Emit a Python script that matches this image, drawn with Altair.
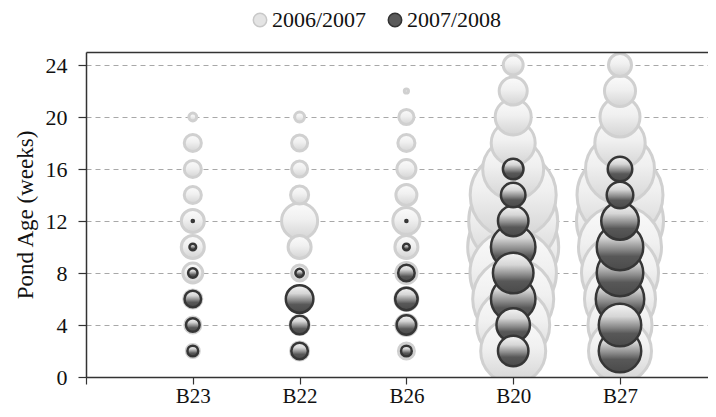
import altair as alt
import pandas as pd

categories = ["B23", "B22", "B26", "B20", "B27"]
seasons = ["2006/2007", "2007/2008"]
weeks = [2, 4, 6, 8, 10, 12, 14, 16, 18, 20, 22, 24]
y_ticks = [0, 4, 8, 12, 16, 20, 24]

# relative bubble sizes per pond, one value per week (None = no bubble)
b23_0607 = [1.9, 2.9, 3.7, 4.5, 6.0, 6.0, 3.3, 3.3, 3.3, 0.7, None, None]
b22_0607 = [3.7, 4.1, 5.5, 2.9, 6.0, 14.7, 3.7, 2.9, 2.9, 1.1, None, None]
b26_0607 = [2.9, 5.0, 6.0, 5.0, 6.0, 8.3, 5.0, 4.1, 3.3, 2.6, 0.2, None]
b20_0607 = [47.8, 60.3, 74.3, 84.5, 93.7, 89.6, 83.7, 42.1, 21.9, 14.7, 8.9, 4.5]
b27_0607 = [44.9, 46.4, 57.1, 67.1, 78.0, 85.7, 83.7, 53.9, 28.7, 18.1, 10.9, 6.0]

b23_0708 = [1.3, 2.1, 3.1, 1.0, 0.5, 0.05, None, None, None, None, None, None]
b22_0708 = [3.1, 3.9, 8.6, 0.8, None, None, None, None, None, None, None, None]
b26_0708 = [1.3, 4.3, 5.7, 3.1, 0.5, 0.05, None, None, None, None, None, None]
b20_0708 = [10.5, 12.7, 22.4, 18.6, 22.4, 10.5, 6.8, 4.8, None, None, None, None]
b27_0708 = [20.4, 20.4, 26.6, 24.5, 24.5, 15.9, 8.0, 6.8, None, None, None, None]

series_0607 = [b23_0607, b22_0607, b26_0607, b20_0607, b27_0607]
series_0708 = [b23_0708, b22_0708, b26_0708, b20_0708, b27_0708]


def build(series, season):
    rows = []
    for i, (cat, vals) in enumerate(zip(categories, series)):
        for w, v in zip(weeks, vals):
            if v is not None:
                rows.append({"pond": cat, "pos": i + 1, "week": w, "value": v, "season": season})
    return pd.DataFrame(rows)


df_light = build(series_0607, seasons[0])
df_dark = build(series_0708, seasons[1])

FONT = "Liberation Serif"
label_list = "[''," + ",".join("'\u00a0\u00a0%s'" % c for c in categories) + "]"
x_scale = alt.Scale(domain=[0, 5.824], nice=False, zero=False)

x_enc = alt.X(
    "pos:Q",
    scale=x_scale,
    axis=alt.Axis(
        title=None, values=[0, 1, 2, 3, 4, 5], labelExpr=label_list + "[datum.value]",
        grid=False, tickSize=7, tickColor="#333333", tickWidth=1.2,
        domainColor="#333333", domainWidth=1.5, labelPadding=1,
        labelFont=FONT, labelFontSize=21, labelColor="#111111", zindex=1,
    ),
)
x_enc_top = alt.X(
    "pos:Q",
    scale=x_scale,
    axis=alt.Axis(
        title=None, orient="top", labels=False, ticks=False, grid=False,
        domainColor="#333333", domainWidth=1.5, zindex=1,
    ),
)
y_enc = alt.Y(
    "week:Q",
    scale=alt.Scale(domain=[0, 25], nice=False),
    axis=alt.Axis(
        title="Pond Age (weeks)", values=y_ticks, grid=True, gridDash=[5, 4],
        gridColor="#a8a8a8", gridWidth=1, tickSize=8, tickColor="#333333", tickWidth=1.2,
        domainColor="#333333", domainWidth=1.5, labelPadding=11,
        labelFont=FONT, labelFontSize=22, labelColor="#111111",
        titleFont=FONT, titleFontSize=23, titleFontWeight="normal", titleColor="#111111",
        titlePadding=8, zindex=0,
    ),
)
# Vega symbol size = area of the bounding square (diameter = sqrt(size))
size_enc = alt.Size(
    "value:Q", scale=alt.Scale(type="linear", domain=[0, 100], range=[0, 8836], zero=True), legend=None
)
order_enc = alt.Order("value:Q", sort="descending")

light_grad = alt.LinearGradient(
    gradient="linear", x1=0, x2=0, y1=0, y2=1,
    stops=[
        alt.GradientStop(offset=0, color="#fbfbfb"),
        alt.GradientStop(offset=0.45, color="#f0f0f0"),
        alt.GradientStop(offset=1, color="#d4d4d4"),
    ],
)
dark_grad = alt.LinearGradient(
    gradient="linear", x1=0, x2=0, y1=0, y2=1,
    stops=[
        alt.GradientStop(offset=0, color="#f5f5f5"),
        alt.GradientStop(offset=0.3, color="#d6d6d6"),
        alt.GradientStop(offset=0.55, color="#8a8a8a"),
        alt.GradientStop(offset=0.7, color="#585858"),
        alt.GradientStop(offset=1, color="#4a4a4a"),
    ],
)

light = alt.Chart(df_light).mark_point(
    shape="circle", filled=True, fill=light_grad, stroke="#d0d0d0", strokeWidth=3, opacity=1, clip=True
).encode(x=x_enc, y=y_enc, size=size_enc, order=order_enc)

dark = alt.Chart(df_dark).mark_point(
    shape="circle", filled=True, fill=dark_grad, stroke="#363636", strokeWidth=2.5, opacity=1, clip=True
).encode(x=x_enc_top, y=y_enc, size=size_enc, order=order_enc)

legend_cfg = dict(
    title=None, orient="none", legendX=163, legendY=-43, direction="horizontal",
    labelFont=FONT, labelFontSize=22, labelColor="#111111", symbolType="circle",
    symbolSize=180, symbolStrokeWidth=1.5, symbolOpacity=1, columnPadding=17, labelOffset=1,
)
legend_layer = alt.Chart(pd.DataFrame({"season": seasons})).mark_point(
    shape="circle", filled=True, opacity=0
).encode(
    fill=alt.Fill("season:N", scale=alt.Scale(domain=seasons, range=["#e4e4e4", "#5a5a5a"]),
                  legend=alt.Legend(**legend_cfg)),
    stroke=alt.Stroke("season:N", scale=alt.Scale(domain=seasons, range=["#c8c8c8", "#333333"]),
                      legend=alt.Legend(**legend_cfg)),
)

chart = (
    alt.layer(legend_layer, light, dark)
    .resolve_axis(x="independent")
    .properties(
        width=622, height=325,
        autosize=alt.AutoSizeParams(type="none"),
        padding={"left": 78, "top": 44, "right": 0, "bottom": 32},
        background="white",
    )
    .configure_view(stroke=None)
)

chart.save("out.html", embed_options={"renderer": "svg", "actions": False})
